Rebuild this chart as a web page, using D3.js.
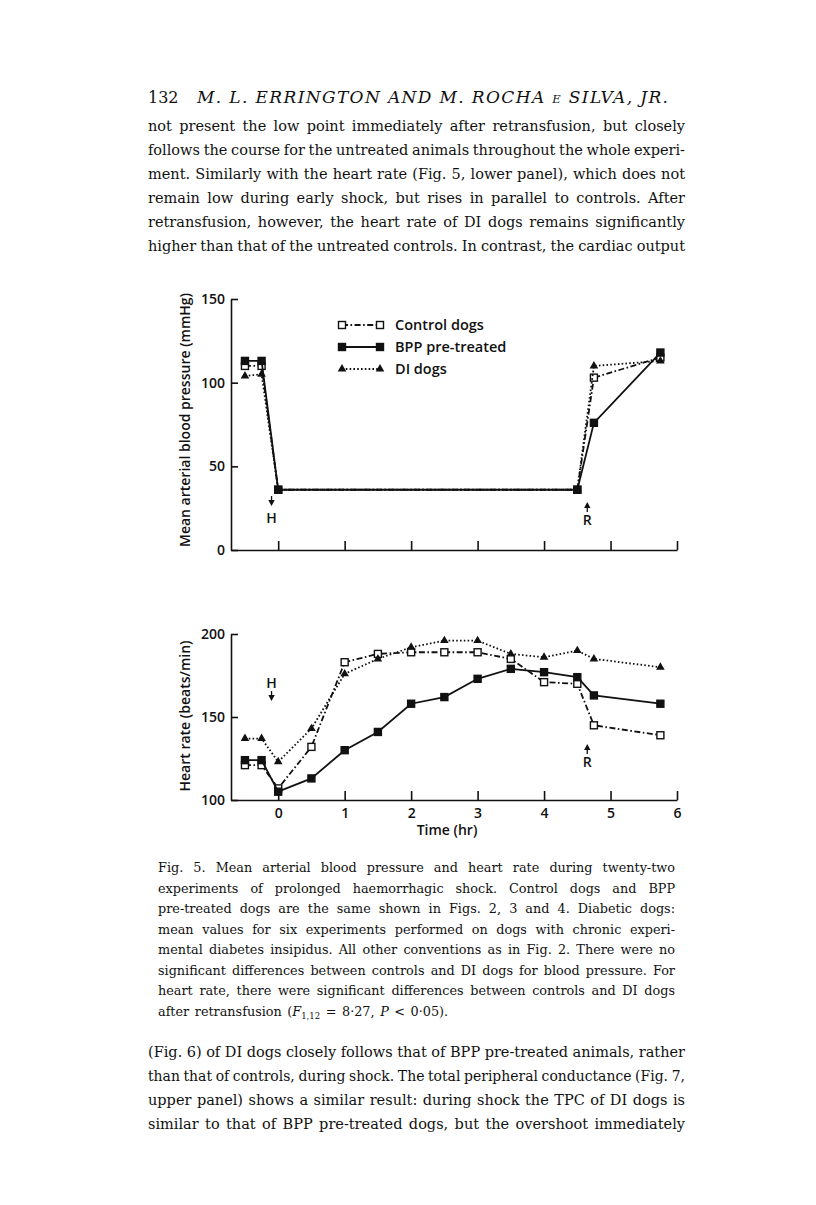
<!DOCTYPE html>
<html>
<head>
<meta charset="utf-8">
<script src="https://cdn.jsdelivr.net/npm/d3@7"></script>
<style>
  html, body { margin: 0; padding: 0; background: #fff; }
  svg { display: block; }
</style>
</head>
<body>
<script>
// ---------------- DATA ----------------
const seriesNames = ["Control dogs", "BPP pre-treated", "DI dogs"];

// Upper panel: mean arterial blood pressure (mmHg)
const bpTimes   = [-0.5, -0.25, 0, 4.5, 4.75, 5.75];
const bpControl = [110, 110, 36, 36, 103, 115];
const bpBPP     = [113, 113, 36, 36, 76, 118];
const bpDI      = [104, 105, 36, 36, 110, 113];
const bpTicks   = [0, 50, 100, 150];

// Lower panel: heart rate (beats/min)
const hrTimes   = [-0.5, -0.25, 0, 0.5, 1, 1.5, 2, 2.5, 3, 3.5, 4, 4.5, 4.75, 5.75];
const hrControl = [121, 121, 107, 132, 183, 188, 189, 189, 189, 185, 171, 170, 145, 139];
const hrBPP     = [124, 124, 105, 113, 130, 141, 158, 162, 173, 179, 177, 174, 163, 158];
const hrDI      = [137, 137, 123, 143, 176, 185, 192, 196, 196, 188, 186, 190, 185, 180];
const hrTicks   = [100, 150, 200];
const timeTicks = [0, 1, 2, 3, 4, 5, 6];

// Event markers (H = haemorrhage, R = retransfusion)
const events = [{label: "H", t: -0.1}, {label: "R", t: 4.65}];

// Text
const headerNum = "132";
const bodyTop = [
  "not present the low point immediately after retransfusion, but closely",
  "follows the course for the untreated animals throughout the whole experi-",
  "ment. Similarly with the heart rate (Fig. 5, lower panel), which does not",
  "remain low during early shock, but rises in parallel to controls. After",
  "retransfusion, however, the heart rate of DI dogs remains significantly",
  "higher than that of the untreated controls. In contrast, the cardiac output"
];
const caption = [
  "Fig. 5. Mean arterial blood pressure and heart rate during twenty-two",
  "experiments of prolonged haemorrhagic shock. Control dogs and BPP",
  "pre-treated dogs are the same shown in Figs. 2, 3 and 4. Diabetic dogs:",
  "mean values for six experiments performed on dogs with chronic experi-",
  "mental diabetes insipidus. All other conventions as in Fig. 2. There were no",
  "significant differences between controls and DI dogs for blood pressure. For",
  "heart rate, there were significant differences between controls and DI dogs"
];
const bodyBottom = [
  "(Fig. 6) of DI dogs closely follows that of BPP pre-treated animals, rather",
  "than that of controls, during shock. The total peripheral conductance (Fig. 7,",
  "upper panel) shows a similar result: during shock the TPC of DI dogs is",
  "similar to that of BPP pre-treated dogs, but the overshoot immediately"
];

// ---------------- DRAW ----------------
const W = 816, H = 1205;
const svg = d3.select("body").append("svg").attr("width", W).attr("height", H);
svg.append("rect").attr("width", W).attr("height", H).attr("fill", "#fff");

const SERIF = "'DejaVu Serif', 'Liberation Serif', serif";
const SANS = "'Open Sans', 'DejaVu Sans', sans-serif";
const INK = "#111";

function justify(lines, x0, x1, baselines, size) {
  const g = svg.append("g").attr("font-family", SERIF).attr("font-size", size).attr("fill", INK);
  lines.forEach((line, i) => {
    const words = line.split(" ");
    const nodes = words.map(w => g.append("text").attr("y", baselines[i]).text(w));
    const widths = nodes.map(n => n.node().getComputedTextLength());
    const total = d3.sum(widths);
    const minGap = size * 0.25;
    let gap = (x1 - x0 - total) / (words.length - 1);
    let scale = 1;
    if (gap < minGap) { scale = (x1 - x0 - minGap * (words.length - 1)) / total; gap = minGap; }
    let cx = x0;
    nodes.forEach((n, j) => {
      n.attr("x", cx);
      if (scale !== 1) n.attr("textLength", widths[j] * scale).attr("lengthAdjust", "spacingAndGlyphs");
      cx += widths[j] * scale + gap;
    });
  });
}

// Header
svg.append("text").attr("x", 148).attr("y", 103).attr("font-family", SERIF)
  .attr("font-size", 16).attr("fill", INK).text(headerNum);
const auth = svg.append("text").attr("x", 197).attr("y", 103).attr("font-family", SERIF)
  .attr("font-size", 17).attr("font-style", "italic").attr("fill", INK)
  .attr("textLength", 471).attr("lengthAdjust", "spacing");
auth.append("tspan").text("M. L. ERRINGTON AND M. ROCHA ");
auth.append("tspan").attr("font-size", 11.5).text("E");
auth.append("tspan").text(" SILVA, JR.");

justify(bodyTop, 148, 685, [131, 155, 179, 203, 227, 251], 14.5);
justify(caption, 158, 675, [872, 892.5, 913, 933.5, 954, 974.5, 995], 12.8);
justify(bodyBottom, 148, 685, [1057, 1081, 1105, 1129], 14.5);

// Caption last line
const last = svg.append("text").attr("x", 158).attr("y", 1015.5).attr("font-family", SERIF)
  .attr("font-size", 12.8).attr("fill", INK).attr("word-spacing", 1.5);
last.append("tspan").text("after retransfusion (");
last.append("tspan").attr("font-style", "italic").text("F");
last.append("tspan").attr("font-size", 8.5).attr("dy", 3).text("1,12");
last.append("tspan").attr("dy", -3).text(" = 8·27, ");
last.append("tspan").attr("font-style", "italic").text("P");
last.append("tspan").text(" < 0·05).");

// Scales
const x = d3.scaleLinear().domain([-0.71, 6]).range([231, 677]);
const yBP = d3.scaleLinear().domain([0, 150]).range([550, 299]);
const yHR = d3.scaleLinear().domain([100, 200]).range([800, 634]);

function styleAxis(g) {
  g.selectAll(".domain").attr("stroke", INK).attr("stroke-width", 1.6);
  g.selectAll(".tick line").attr("stroke", INK).attr("stroke-width", 1.6);
  g.selectAll("text").attr("font-family", SANS).attr("font-size", 14)
    .attr("font-weight", 600).attr("fill", INK);
}

// Upper panel axes
svg.append("g").attr("transform", `translate(${x.range()[0]},0)`)
  .call(d3.axisLeft(yBP).tickValues(bpTicks).tickSizeInner(-7).tickSizeOuter(0).tickPadding(6))
  .call(styleAxis);
svg.append("g").attr("transform", `translate(0,${yBP(0)})`)
  .call(d3.axisBottom(x).tickValues(timeTicks).tickSizeInner(-9).tickSizeOuter(0).tickFormat(""))
  .call(styleAxis);

// Lower panel axes
svg.append("g").attr("transform", `translate(${x.range()[0]},0)`)
  .call(d3.axisLeft(yHR).tickValues(hrTicks).tickSizeInner(-7).tickSizeOuter(0).tickPadding(6))
  .call(styleAxis);
svg.append("g").attr("transform", `translate(0,${yHR(100)})`)
  .call(d3.axisBottom(x).tickValues(timeTicks).tickSizeInner(-9).tickSizeOuter(0).tickPadding(8).tickFormat(d3.format("d")))
  .call(styleAxis);

// Axis titles
function yTitle(text, cy) {
  svg.append("text").attr("transform", `translate(190,${cy}) rotate(-90)`)
    .attr("text-anchor", "middle").attr("font-family", SANS).attr("font-size", 14)
    .attr("font-weight", 600).attr("fill", INK).text(text);
}
yTitle("Mean arterial blood pressure (mmHg)", 420);
yTitle("Heart rate (beats/min)", 716);
svg.append("text").attr("x", 447).attr("y", 835).attr("text-anchor", "middle")
  .attr("font-family", SANS).attr("font-size", 14).attr("font-weight", 600)
  .attr("fill", INK).text("Time (hr)");

// Series styling
const styles = {
  "Control dogs":    {dash: "6,2.5,1.6,2.5", marker: "openSquare"},
  "BPP pre-treated": {dash: null, marker: "square"},
  "DI dogs":         {dash: "1.6,2.2", marker: "triangle"}
};

function drawMarker(g, type, cx, cy) {
  if (type === "triangle") {
    g.append("path").attr("d", d3.symbol(d3.symbolTriangle, 32)())
      .attr("transform", `translate(${cx},${cy})`).attr("fill", INK);
  } else {
    const s = 7;
    g.append("rect").attr("x", cx - s / 2).attr("y", cy - s / 2).attr("width", s).attr("height", s)
      .attr("fill", type === "square" ? INK : "#fff").attr("stroke", INK).attr("stroke-width", 1.4);
  }
}

function drawSeries(times, vals, yScale, name) {
  const st = styles[name];
  const data = times.map((t, i) => ({t, v: vals[i]}));
  const g = svg.append("g");
  g.append("path").datum(data)
    .attr("d", d3.line().x(d => x(d.t)).y(d => yScale(d.v)))
    .attr("fill", "none").attr("stroke", INK).attr("stroke-width", 1.8)
    .attr("stroke-dasharray", st.dash);
  data.forEach(d => drawMarker(g, st.marker, x(d.t), yScale(d.v)));
}

drawSeries(bpTimes, bpControl, yBP, "Control dogs");
drawSeries(bpTimes, bpDI, yBP, "DI dogs");
drawSeries(bpTimes, bpBPP, yBP, "BPP pre-treated");
drawSeries(hrTimes, hrControl, yHR, "Control dogs");
drawSeries(hrTimes, hrDI, yHR, "DI dogs");
drawSeries(hrTimes, hrBPP, yHR, "BPP pre-treated");

// Legend
const legendRows = [325, 347, 369];
seriesNames.forEach((name, i) => {
  const st = styles[name];
  const g = svg.append("g");
  const ly = legendRows[i];
  g.append("line").attr("x1", 342).attr("x2", 380).attr("y1", ly).attr("y2", ly)
    .attr("stroke", INK).attr("stroke-width", 1.8).attr("stroke-dasharray", st.dash);
  drawMarker(g, st.marker, 342, ly);
  drawMarker(g, st.marker, 380, ly);
  g.append("text").attr("x", 395).attr("y", ly + 5).attr("font-family", SANS)
    .attr("font-size", 14.5).attr("font-weight", 600).attr("fill", INK).text(name);
});

// Event arrows and labels
function arrow(cx, cy, dir) {
  const g = svg.append("g").attr("fill", INK).attr("stroke", INK);
  g.append("line").attr("x1", cx).attr("x2", cx).attr("y1", cy - 5 * dir).attr("y2", cy)
    .attr("stroke-width", 1.3);
  g.append("path").attr("d", `M${cx - 3.2},${cy - 1 * dir} L${cx + 3.2},${cy - 1 * dir} L${cx},${cy + 5 * dir} Z`)
    .attr("stroke", "none");
}
function eventLabel(txt, cx, cy) {
  svg.append("text").attr("x", cx).attr("y", cy + 5).attr("text-anchor", "middle")
    .attr("font-family", SANS).attr("font-size", 14).attr("font-weight", 600)
    .attr("fill", INK).text(txt);
}
arrow(x(events[0].t), 501, 1); eventLabel(events[0].label, x(events[0].t), 518);
arrow(x(events[1].t), 507, -1); eventLabel(events[1].label, x(events[1].t), 520);
eventLabel(events[0].label, x(events[0].t), 683); arrow(x(events[0].t), 696, 1);
arrow(x(events[1].t), 749, -1); eventLabel(events[1].label, x(events[1].t), 762);
</script>
</body>
</html>
